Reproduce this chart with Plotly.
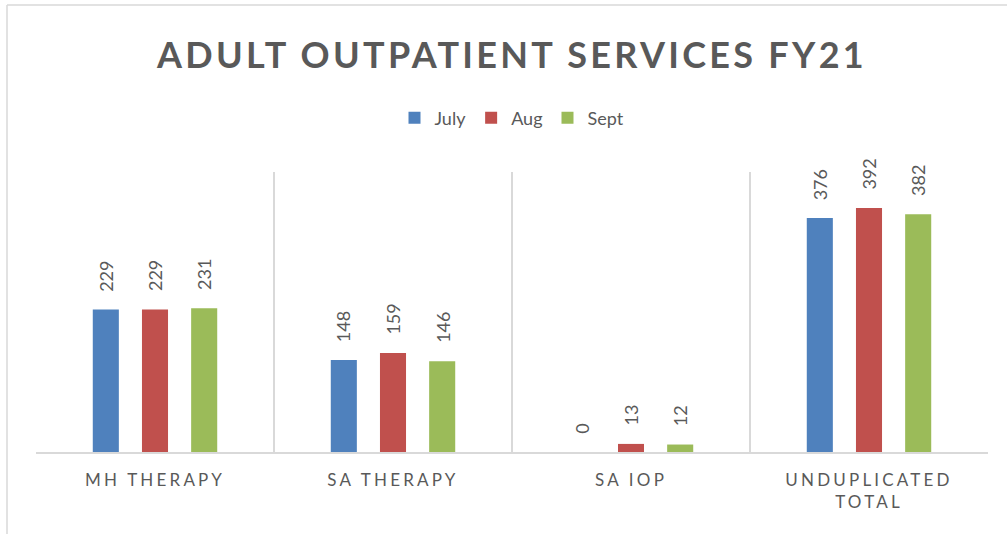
import plotly.graph_objects as go

categories = ["MH THERAPY", "SA THERAPY", "SA IOP", "UNDUPLICATED<br>TOTAL"]
series_names = ["July", "Aug", "Sept"]
july = [229, 148, 0, 376]
aug = [229, 159, 13, 392]
sept = [231, 146, 12, 382]
colors = ["#4F81BD", "#C0504D", "#9BBB59"]

W, H = 1007, 534
ml, mr, mt, mb = 36, 19, 172, 82
pw, ph = W - ml - mr, H - mt - mb
bargap = 0.38
ncat = len(categories)
slot = pw / ncat * (1 - bargap) / 3

GRAY = "#595959"
FONT = "Lato"

def spaced(t, px):
    return f'<span style="letter-spacing:{px}px">{t}</span>'

fig = go.Figure()
for name, vals, c in zip(series_names, [july, aug, sept], colors):
    fig.add_trace(go.Bar(name=name, x=[spaced(c_, 3.2) for c_ in categories], y=vals,
                         marker=dict(color=c, line=dict(width=0)),
                         hoverinfo="x+y+name"))

annotations = []
for i, vals in enumerate([july, aug, sept]):
    for cat, v in zip(categories, vals):
        annotations.append(dict(
            x=spaced(cat, 3.2), y=v, xref="x", yref="y", text=str(v),
            showarrow=False, textangle=-90, yanchor="bottom", xanchor="center",
            xshift=(i - 1) * slot, yshift=16,
            font=dict(family=FONT, size=18, color=GRAY)))

fig.update_layout(
    width=W, height=H,
    margin=dict(l=ml, r=mr, t=mt, b=mb, autoexpand=False),
    paper_bgcolor="white", plot_bgcolor="white",
    barmode="group", bargap=bargap, bargroupgap=0.47,
    title=dict(text=spaced("<b>ADULT OUTPATIENT SERVICES FY21</b>", 3.3),
               x=0.5, xref="paper", xanchor="center",
               y=1 - 55 / H, yref="container", yanchor="middle",
               font=dict(family=FONT, size=36, color=GRAY)),
    legend=dict(orientation="h", x=0.5, xanchor="center", y=(452 - 118) / ph,
                yanchor="middle", font=dict(family=FONT, size=18, color=GRAY),
                itemwidth=30, traceorder="normal"),
    xaxis=dict(type="category", tickson="boundaries", showgrid=True,
               gridcolor="#d9d9d9", gridwidth=1.5, showline=True,
               linecolor="#d9d9d9", linewidth=1.5, ticks="",
               ticklabelstandoff=12,
               tickfont=dict(family=FONT, size=17, color=GRAY), tickangle=0),
    yaxis=dict(range=[0, 450], showgrid=False, zeroline=False,
               showticklabels=False, showline=False, ticks=""),
    annotations=annotations,
    shapes=[
        dict(type="line", xref="paper", yref="paper",
             x0=(7 - ml) / pw, x1=(W - ml) / pw,
             y0=(452 - 5) / ph, y1=(452 - 5) / ph,
             line=dict(color="#d9d9d9", width=1.5)),
        dict(type="line", xref="paper", yref="paper",
             x0=(7 - ml) / pw, x1=(7 - ml) / pw,
             y0=(452 - 5) / ph, y1=(452 - H) / ph,
             line=dict(color="#d9d9d9", width=1.5)),
    ],
)

fig.write_html("out.html", config={"displayModeBar": False},
               post_script="document.body.style.margin='0';")
